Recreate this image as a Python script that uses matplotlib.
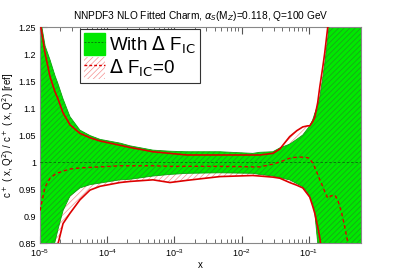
import numpy as np
import matplotlib
matplotlib.use("Agg")
import matplotlib.pyplot as plt
import matplotlib.patches as mpatches
import matplotlib.lines as mlines

plt.rcParams['font.family'] = ['Liberation Sans', 'DejaVu Sans']
plt.rcParams['hatch.linewidth'] = 0.5

# x grid
x = [1.0e-5, 1.19e-5, 1.41e-5, 1.67e-5, 1.85e-5, 2.20e-5, 2.79e-5, 3.93e-5,
     5.54e-5, 7.8e-5, 1.55e-4, 2.18e-4, 4.79e-4, 8.6e-4, 1.53e-3, 4.75e-3,
     1.47e-2, 1.87e-2, 2.92e-2, 3.71e-2, 5.2e-2, 6.64e-2, 8.15e-2, 9.66e-2,
     0.1035, 0.1146, 0.123, 0.136, 0.146, 0.1614, 0.173, 0.192, 0.212,
     0.244, 0.27, 0.31, 0.343, 0.38, 0.435, 0.6]

# With Delta F_IC (green band)
green_up = [1.27, 1.215, 1.189, 1.16, 1.145, 1.117, 1.084, 1.059,
            1.049, 1.042, 1.035, 1.030, 1.022, 1.020, 1.019, 1.019,
            1.016, 1.018, 1.019, 1.026, 1.033, 1.042, 1.05, 1.062,
            1.067, 1.078, 1.09, 1.105, 1.12, 1.155, 1.183, 1.23, 1.28,
            1.6, 1.6, 1.6, 1.6, 1.6, 1.6, 1.6]
green_lo = [0.78, 0.80, 0.825, 0.852, 0.875, 0.91, 0.937, 0.952,
            0.958, 0.961, 0.967, 0.968, 0.974, 0.977, 0.979, 0.980,
            0.979, 0.977, 0.974, 0.971, 0.967, 0.960, 0.954, 0.943,
            0.935, 0.922, 0.906, 0.85, 0.80, 0.6, 0.6, 0.6, 0.6,
            0.6, 0.6, 0.6, 0.6, 0.6, 0.6, 0.6]
green_c = [1.0] * len(x)

# Delta F_IC = 0 (red band)
red_up = [1.26, 1.201, 1.158, 1.13, 1.117, 1.091, 1.069, 1.053,
          1.045, 1.039, 1.031, 1.027, 1.019, 1.016, 1.013, 1.013,
          1.013, 1.013, 1.016, 1.024, 1.047, 1.058, 1.065, 1.067,
          1.067, 1.075, 1.083, 1.11, 1.139, 1.175, 1.202, 1.25, 1.30,
          1.6, 1.6, 1.6, 1.6, 1.6, 1.6, 1.6]
red_lo = [0.6, 0.68, 0.75, 0.81, 0.848, 0.886, 0.905, 0.930,
          0.948, 0.955, 0.962, 0.964, 0.967, 0.962, 0.966, 0.973,
          0.975, 0.974, 0.972, 0.970, 0.962, 0.957, 0.952, 0.940,
          0.935, 0.918, 0.905, 0.88, 0.86, 0.82, 0.78, 0.7, 0.6,
          0.6, 0.6, 0.6, 0.6, 0.6, 0.6, 0.6]
red_c = [0.91, 0.954, 0.970, 0.977, 0.980, 0.983, 0.987, 0.989,
         0.990, 0.991, 0.993, 0.993, 0.993, 0.992, 0.992, 0.992,
         0.991, 0.991, 0.996, 1.0, 1.007, 1.009, 1.009, 1.008,
         1.006, 0.998, 0.99, 0.977, 0.967, 0.955, 0.945, 0.933, 0.937,
         0.939, 0.93, 0.905, 0.88, 0.852, 0.80, 0.7]

yticks = [0.85, 0.9, 0.95, 1.0, 1.05, 1.1, 1.15, 1.2, 1.25]
ytick_labels = ['0.85', '0.9', '0.95', '1', '1.05', '1.1', '1.15', '1.2', '1.25']

GREEN = '#00e800'
HATCHGREEN = '#1f9a1f'
DKGREEN = '#0a7a0a'
RED = '#dd0000'
PINK = '#f49090'

fig = plt.figure(figsize=(4.01, 2.72), dpi=100)
ax = fig.add_axes([0.0998, 0.1066, 0.8005, 0.7941])

# red band: white with pink hatch
ax.fill_between(x, red_lo, red_up, facecolor='white', edgecolor=PINK,
                hatch='//////', linewidth=0, zorder=1)
# green band on top
ax.fill_between(x, green_lo, green_up, facecolor=GREEN, edgecolor=HATCHGREEN,
                hatch='//////', linewidth=0, zorder=2)
ax.plot(x, green_up, color='#10a010', lw=0.6, zorder=3)
ax.plot(x, green_lo, color='#10a010', lw=0.6, zorder=3)
ax.plot(x, green_c, color=DKGREEN, lw=0.7, ls=(0, (2.5, 2)), zorder=4)

ax.plot(x, red_up, color=RED, lw=1.2, zorder=5)
ax.plot(x, red_lo, color=RED, lw=1.2, zorder=5)
ax.plot(x, red_c, color=RED, lw=1.0, ls=(0, (2.5, 2)), zorder=5)

ax.set_xscale('log')
ax.set_xlim(1e-5, 0.6)
ax.set_ylim(0.85, 1.25)
ax.set_yticks(yticks)
ax.set_yticklabels(ytick_labels)
ax.tick_params(which='both', direction='in', top=True, labelsize=6.5,
               color='#555555', pad=3)
ax.tick_params(which='major', length=5)
ax.tick_params(which='minor', length=3)
for s in ax.spines.values():
    s.set_color('#888888')
    s.set_linewidth(0.8)

ax.set_xlabel('x', fontsize=7, labelpad=1)
ax.set_ylabel(r'c$^+$ ( x, Q$^2$) / c$^+$ ( x, Q$^2$) [ref]', fontsize=7, labelpad=2)
ax.set_title(r'NNPDF3 NLO Fitted Charm, $\alpha_S$(M$_Z$)=0.118, Q=100 GeV',
             fontsize=7.3, pad=6)

# legend
g_patch = mpatches.Patch(facecolor=GREEN, edgecolor=GREEN)
g_line = mlines.Line2D([], [], color=DKGREEN, lw=0.7, ls=(0, (2, 1.5)))
r_patch = mpatches.Patch(facecolor='white', edgecolor=PINK, hatch='//////', linewidth=0)
r_line = mlines.Line2D([], [], color=RED, lw=1.0, ls=(0, (2, 1.5)))
leg = ax.legend([(g_patch, g_line), (r_patch, r_line)],
                [r'With $\Delta$ F$_{\rm IC}$', r'$\Delta$ F$_{\rm IC}$=0'],
                loc='upper left', bbox_to_anchor=(0.125, 0.99), fontsize=13.5,
                fancybox=False, framealpha=1, edgecolor='#333333',
                handlelength=1.15, handleheight=1.45, handletextpad=0.2,
                borderpad=0.2, labelspacing=0.05, borderaxespad=0)
leg.get_frame().set_linewidth(0.8)

fig.savefig('out.png', dpi=100)
